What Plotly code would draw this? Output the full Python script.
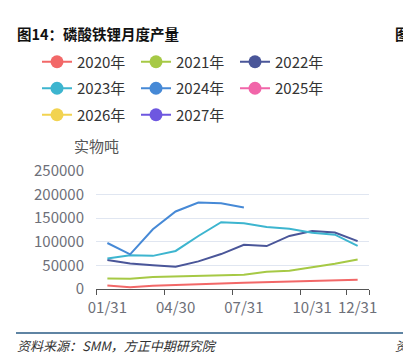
import plotly.graph_objects as go

months = ["01/31", "02/28", "03/31", "04/30", "05/31", "06/30",
          "07/31", "08/31", "09/30", "10/31", "11/30", "12/31"]
tick_labels = ["01/31", "04/30", "07/31", "10/31", "12/31"]

s2020 = [7500, 3500, 7000, 8000, 10000, 11500, 13000, 14500, 16000, 17500, 19000, 19500]
s2021 = [22400, 21700, 25500, 27000, 28000, 29500, 30200, 36500, 38600, 46000, 53300, 62400]
s2022 = [61500, 53800, 50500, 47000, 58500, 74000, 93500, 91000, 112500, 123000, 119800, 101500]
s2023 = [64500, 71500, 70200, 80600, 112300, 141500, 139300, 131500, 127500, 119200, 115000, 91500]
s2024 = [97500, 73500, 126500, 164200, 183000, 181700, 172500]
s2025 = []
s2026 = []
s2027 = []

names = ["2020年", "2021年", "2022年", "2023年", "2024年", "2025年", "2026年", "2027年"]
series = [s2020, s2021, s2022, s2023, s2024, s2025, s2026, s2027]
colors = ["#f26868", "#a6c945", "#4a5699", "#3db5cf", "#4689d6", "#f165a9", "#f2d350", "#6e57e0"]
legend_ids = ["legend", "legend", "legend", "legend2", "legend2", "legend2", "legend3", "legend3"]

W, H = 403, 356
ml, mr, mt, mb = 96, 34, 171, 67
pw, ph = W - ml - mr, H - mt - mb


def px_x(x):
    return (x - ml) / pw


def px_y(y):
    return (H - mb - y) / ph


fig = go.Figure()
for name, vals, col in zip(names, series, colors):
    if len(vals):
        fig.add_trace(go.Scatter(x=list(range(len(vals))), y=vals, mode="lines",
                                 line=dict(color=col, width=2), showlegend=False,
                                 hoverinfo="skip"))
for name, col, lg in zip(names, colors, legend_ids):
    fig.add_trace(go.Scatter(x=[None], y=[None], mode="lines+markers", name=name,
                             line=dict(color=col, width=2),
                             marker=dict(color=col, size=13), legend=lg))

font_cjk = "Noto Sans CJK SC, Open Sans, sans-serif"
leg_common = dict(orientation="h", xref="paper", yref="paper",
                  xanchor="left", yanchor="middle", entrywidth=54,
                  font=dict(size=15, color="#333333", family=font_cjk),
                  bgcolor="rgba(0,0,0,0)", borderwidth=0, itemclick=False)
fig.update_layout(
    width=W, height=H,
    margin=dict(l=ml, r=mr, t=mt, b=mb, autoexpand=False),
    paper_bgcolor="white", plot_bgcolor="white",
    font=dict(family=font_cjk),
    legend=dict(x=px_x(37), y=px_y(62), **leg_common),
    legend2=dict(x=px_x(37), y=px_y(88.5), **leg_common),
    legend3=dict(x=px_x(37), y=px_y(115), **leg_common),
    xaxis=dict(range=[-0.5, 11.5], tickmode="array", tickvals=[0, 3, 6, 9, 11],
               ticktext=tick_labels, ticks="outside", ticklen=5,
               tickcolor="rgba(0,0,0,0)", showgrid=False, zeroline=False,
               showline=True, linecolor="#555555", linewidth=1,
               tickfont=dict(size=15, color="#6e7079"),
               minor=dict(tickmode="array", tickvals=[-0.5, 2.5, 5.5, 8.5, 10.5, 11.5],
                          ticks="outside", ticklen=5, tickcolor="#555555", showgrid=False)),
    yaxis=dict(range=[0, 250000], tickmode="array",
               tickvals=[0, 50000, 100000, 150000, 200000, 250000],
               ticktext=["0", "50000", "100000", "150000", "200000", "250000"],
               showgrid=True, gridcolor="#e0e6f1", gridwidth=1, zeroline=False,
               showline=False, ticks="outside", ticklen=8, tickcolor="rgba(0,0,0,0)",
               tickfont=dict(size=15, color="#6e7079")),
)

annos = [
    dict(text="<b>图14：磷酸铁锂月度产量</b>", x=15, y=33, size=14.5, color="#111111", style="normal"),
    dict(text="<b>图</b>", x=393, y=33, size=14.5, color="#111111", style="normal"),
    dict(text="实物吨", x=72, y=145, size=15, color="#555555", style="normal"),
    dict(text="资料来源：SMM，方正中期研究院", x=15, y=345, size=13, color="#333333", style="italic"),
    dict(text="资", x=393, y=345, size=13, color="#333333", style="italic"),
]
for a in annos:
    fig.add_annotation(text=a["text"], xref="paper", yref="paper",
                       x=px_x(a["x"]), y=px_y(a["y"]), xanchor="left", yanchor="middle",
                       showarrow=False,
                       font=dict(size=a["size"], color=a["color"], family=font_cjk, style=a["style"]))

fig.add_shape(type="line", xref="paper", yref="paper",
              x0=px_x(16), x1=px_x(403), y0=px_y(333), y1=px_y(333),
              line=dict(color="#2a5b84", width=1.5))

fig.write_html("out.html", config={"displayModeBar": False},
               post_script="document.body.style.margin='0';document.body.style.overflow='hidden';")
